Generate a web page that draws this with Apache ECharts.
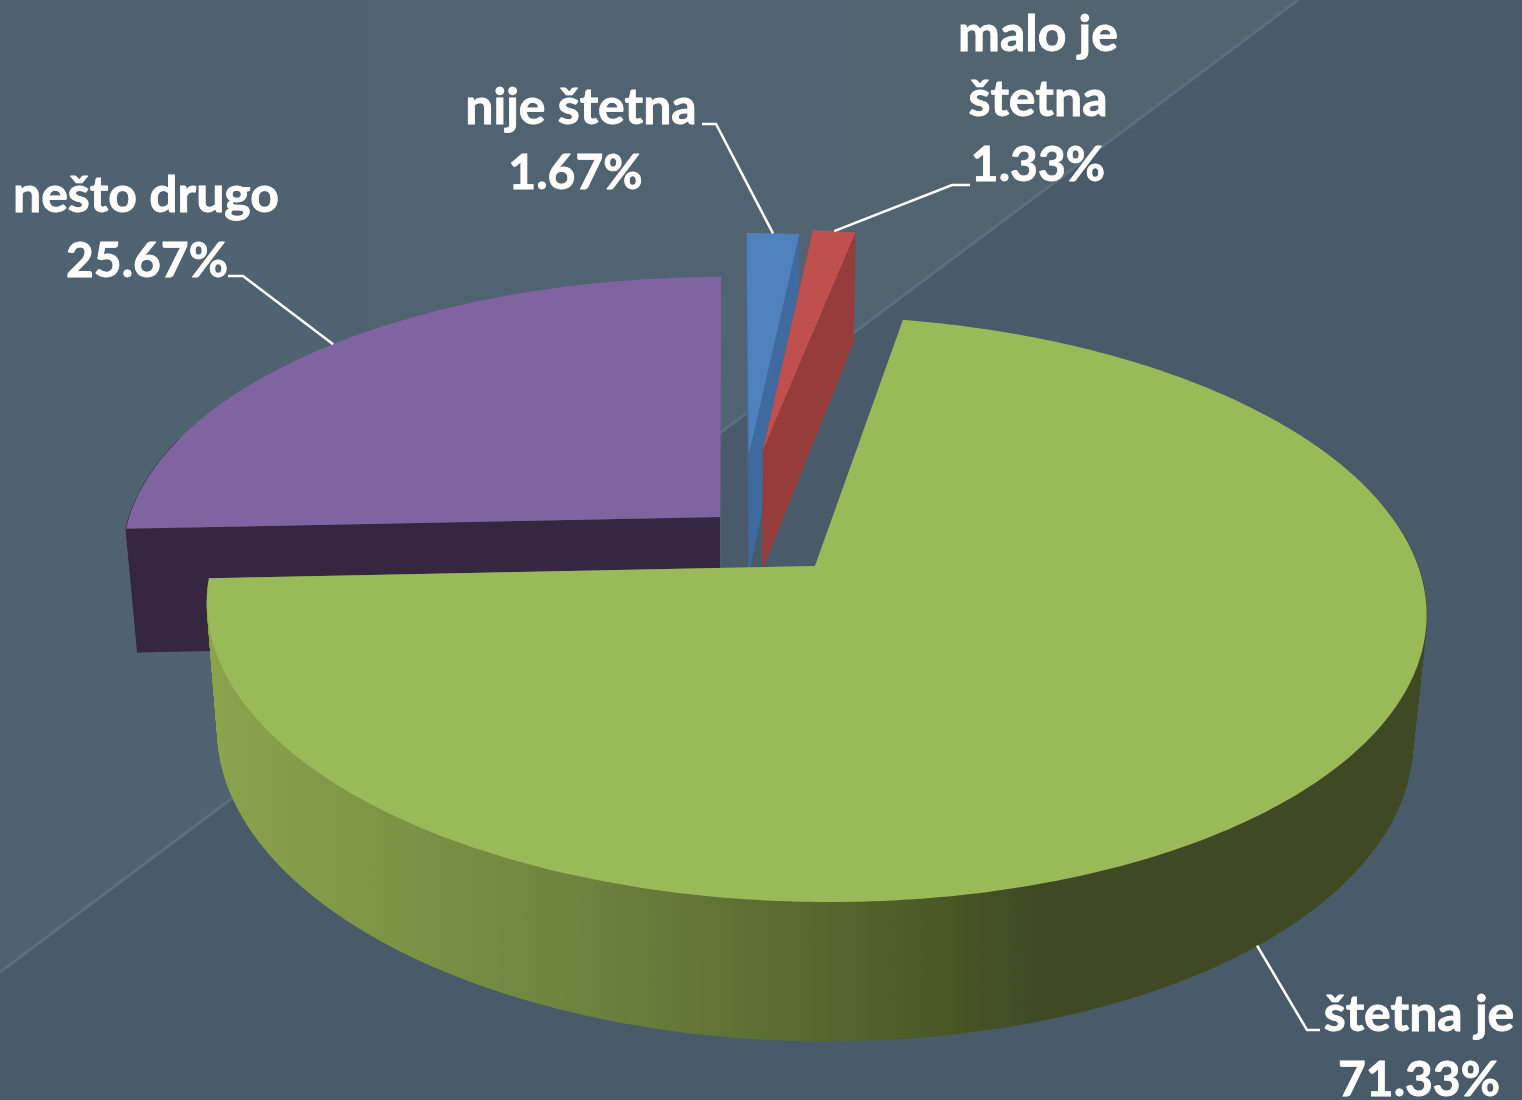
<!DOCTYPE html>
<html>
<head>
<meta charset="utf-8">
<style>html,body{margin:0;padding:0;background:#495a69}#c{width:1522px;height:1100px}</style>
<script src="https://cdn.jsdelivr.net/npm/echarts@6/dist/echarts.min.js"></script>
</head>
<body>
<div id="c"></div>
<script>
// ---- data ----
const categories = ['nije štetna', 'malo je\nštetna', 'štetna je', 'nešto drugo'];
const values = [1.67, 1.33, 71.33, 25.67];

// ---- style and layout (not data) ----
const topColors  = ['#4f81bd', '#c0504d', '#9ab958', '#8064a2'];
const startFaceColors = ['#3f6a9f', '#963c3a', '#6f8a3a', '#36263f'];
const endFaceColors   = ['#3f6a9f', '#963c3a', '#6f8a3a', '#6f5890'];
const wallColors = ['#3f6a9f', '#963c3a', null, '#36263f'];
const paintOrder = [3, 0, 1, 2];
// exploded position and radius of each slice on the pie plane (base radius = 1)
const sliceOffset = [[-0.108, 0.41], [-0.083, 0.43], [0, 0], [-0.158, 0.175]];
const sliceRadius = [[1.01, 0.99], [1.03, 0.99], [1, 1], [1.005, 1.008]];
const labelCenter = [[581, 108], [1038, 35], [1419, 1015], [146, 196]];
const percentCenter = [575.5, 1038, 1419, 147];
const leaderElbow = [[[702, 124], [716, 124]], [[970, 185], [952, 185]], [[1320, 1030], [1307, 1030]], [[228, 276], [243, 276]]];
const leaderOnFloor = [0, 0, 1, 0];
const LINE = 64.5;

// perspective camera of the 3D pie
const cam = {x0: 815, y0: 566, vx: 730, R: 603, A: 286.7, H: 128, k: 0.1468, m: 0.02};
function project(u, v, h) {
  const w = 1 / (1 + cam.k * v + cam.m * h);
  return [cam.vx + (cam.x0 - cam.vx + cam.R * u) * w, cam.y0 + (cam.H * h - cam.A * v) * w];
}

const total = values.reduce((a, b) => a + b, 0);
const starts = [];
values.reduce((acc, v, i) => { starts[i] = acc; return acc + v; }, 0);
const toAngle = p => p / total * 2 * Math.PI;

function rimPoint(i, a, h) {
  const o = sliceOffset[i], r = sliceRadius[i];
  return project(o[0] + r[0] * Math.sin(a), o[1] + r[1] * Math.cos(a), h);
}

const greenWall = () => new echarts.graphic.LinearGradient(205, 0, 1040, 0, [
  {offset: 0, color: '#8ba44c'},
  {offset: 0.22, color: '#7c9545'},
  {offset: 0.48, color: '#6b803e'},
  {offset: 0.72, color: '#586a2f'},
  {offset: 0.9, color: '#485525'},
  {offset: 1, color: '#3f4a24'}
], true);

function renderSlice(params, api) {
  const i = api.value(0), val = api.value(1);
  const a0 = toAngle(starts[i]), a1 = a0 + toAngle(val);
  const o = sliceOffset[i];
  const n = Math.max(4, Math.ceil((a1 - a0) / 0.015));
  const angles = [];
  for (let s = 0; s <= n; s++) angles.push(a0 + (a1 - a0) * s / n);
  const arcT = angles.map(a => rimPoint(i, a, 0));
  const arcB = angles.map(a => rimPoint(i, a, 1));
  const apexT = project(o[0], o[1], 0), apexB = project(o[0], o[1], 1);
  const children = [];
  const poly = (points, fill, stroke) => children.push({type: 'polygon', shape: {points},
    style: {fill, stroke: stroke || null, lineWidth: stroke ? 1 : 0}, silent: true});

  // radial cut faces
  poly([apexT, arcT[0], arcB[0], apexB], startFaceColors[i]);
  poly([apexT, arcT[n], arcB[n], apexB], endFaceColors[i]);
  // outer wall: one quad per arc step on the part that faces the viewer
  const wallFill = wallColors[i] || greenWall();
  for (let s = 0; s < n; s++) {
    if (Math.cos((angles[s] + angles[s + 1]) / 2) < 0.3) {
      poly([arcT[s], arcT[s + 1], arcB[s + 1], arcB[s]], wallFill, wallFill);
    }
  }
  // top
  poly([apexT].concat(arcT), topColors[i]);

  // leader line
  const tip = rimPoint(i, (a0 + a1) / 2, leaderOnFloor[i]);
  children.push({type: 'polyline', shape: {points: leaderElbow[i].concat([tip])},
    style: {stroke: '#ffffff', lineWidth: 2.5, fill: null}, silent: true});

  // label
  const names = categories[i].split('\n');
  const addText = (t, x, y, size) => children.push({
    type: 'text', silent: true,
    style: {text: t, x, y, fill: '#ffffff', stroke: '#ffffff', lineWidth: 0.8,
      font: 'bold ' + size + 'px Lato', align: 'center', verticalAlign: 'middle'}
  });
  names.forEach((t, k) => addText(t, labelCenter[i][0], labelCenter[i][1] + k * LINE, 50));
  addText(val.toFixed(2) + '%', percentCenter[i], labelCenter[i][1] + names.length * LINE + 1.5, 48);
  return {type: 'group', children};
}

const chart = echarts.init(document.getElementById('c'), null, {renderer: 'canvas'});
chart.setOption({
  animation: false,
  backgroundColor: '#495a69',
  graphic: {elements: [
    {type: 'polygon', z: -10, silent: true, shape: {points: [[0, 0], [1298, 0], [0, 972]]},
      style: {fill: new echarts.graphic.LinearGradient(0, 0, 1, 0, [{offset: 0, color: '#4f6271'}, {offset: 1, color: '#52646f'}])}},
    {type: 'line', z: -9, silent: true, shape: {x1: 0, y1: 972, x2: 1298, y2: 0},
      style: {stroke: '#5b6f7d', lineWidth: 3}}
  ]},
  series: [{
    type: 'custom',
    coordinateSystem: 'none',
    renderItem: renderSlice,
    data: paintOrder.map(i => [i, values[i]])
  }]
});
</script>
</body>
</html>
